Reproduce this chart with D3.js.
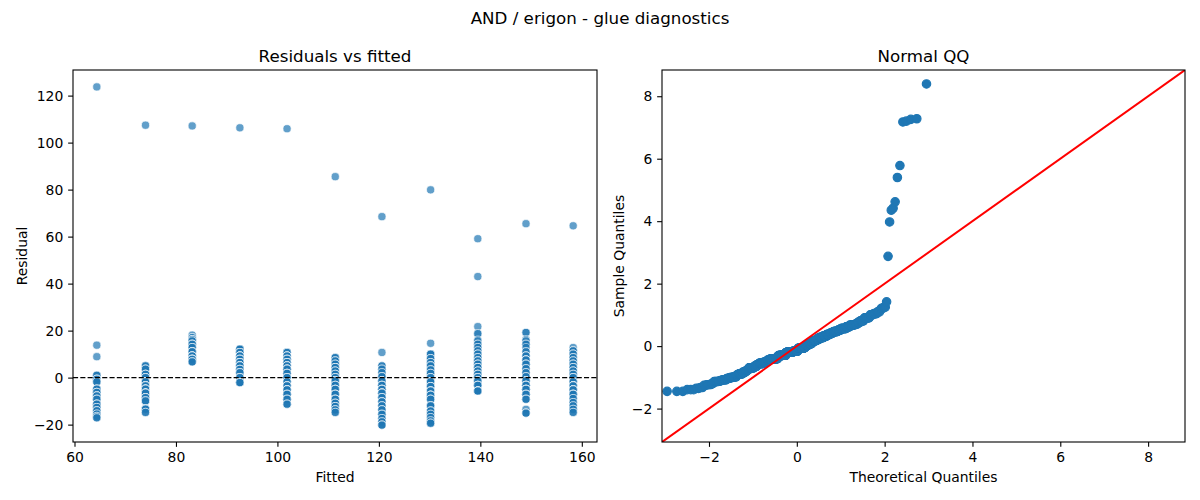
<!DOCTYPE html>
<html>
<head>
<meta charset="utf-8">
<script src="https://cdn.jsdelivr.net/npm/d3@7"></script>
<style>
  body { margin: 0; background: #fff; }
  text { font-family: "DejaVu Sans", sans-serif; fill: #000; }
</style>
</head>
<body>
<div id="chart"></div>
<script>
// fitted value of each group (x position of the columns)
var fitted = [64.4, 74.0, 83.2, 92.6, 101.9, 111.4, 120.6, 130.2, 139.5, 149.0, 158.3];

// residuals, top to bottom (repeats = stacked points)
var res64 = [123.7, 13.8, 8.9, 1.0, 1.0, 1.0, -0.7, -0.7, -0.7, -0.7, -1.8, -1.8, -1.8, -4.9, -4.9, -4.9, -4.9, -6.3, -6.3, -6.3, -6.3, -7.8, -7.8, -7.8, -7.8, -7.8, -9.2, -9.2, -9.2, -11.3, -11.3, -11.3, -11.3, -12.7, -12.7, -12.7, -14.1, -14.1, -14.1, -15.5, -15.5, -16.5, -16.5, -17.1, -17.1];
var res74 = [107.4, 5.0, 5.0, 5.0, 3.6, 3.6, 3.6, 1.4, 1.4, 1.4, 1.4, 0.0, 0.0, 0.0, 0.0, 0.0, -1.8, -1.8, -1.8, -1.8, -1.8, -1.8, -1.8, -1.8, -1.8, -1.8, -3.5, -3.5, -3.5, -3.5, -3.5, -3.5, -4.9, -4.9, -4.9, -4.9, -4.9, -4.9, -6.6, -6.6, -6.6, -6.6, -6.6, -6.6, -6.6, -8.5, -8.5, -8.5, -8.5, -8.5, -9.9, -9.9, -9.9, -13.4, -13.4, -13.4, -13.4, -14.8, -14.8];
var res83 = [107.1, 18.1, 17.0, 17.0, 17.0, 16.2, 16.2, 16.2, 15.6, 15.6, 14.2, 14.2, 14.2, 14.2, 12.8, 12.8, 12.8, 11.0, 11.0, 11.0, 11.0, 11.0, 9.2, 9.2, 9.2, 9.2, 9.2, 7.8, 7.8, 7.8, 7.8, 7.8, 7.8, 6.7, 6.7, 6.7];
var res93 = [106.3, 12.1, 12.1, 12.1, 12.1, 12.1, 10.7, 10.7, 10.7, 10.7, 10.7, 9.2, 9.2, 9.2, 9.2, 9.2, 7.8, 7.8, 7.8, 7.8, 6.4, 6.4, 6.4, 6.4, 6.4, 6.4, 5.0, 5.0, 5.0, 5.0, 5.0, 5.0, 3.5, 3.5, 3.5, 3.5, 2.1, 2.1, 2.1, 2.1, 2.1, 0.0, 0.0, 0.0, 0.0, 0.0, -2.1, -2.1, -2.1, -2.1, -2.1, -2.1, -2.1, -2.1];
var res102 = [105.9, 10.7, 10.7, 10.7, 9.2, 9.2, 9.2, 9.2, 7.8, 7.8, 7.8, 7.8, 6.4, 6.4, 6.4, 6.4, 6.4, 5.0, 5.0, 5.0, 5.0, 5.0, 3.6, 3.6, 3.6, 3.6, 3.6, 1.8, 1.8, 1.8, 1.8, 1.8, 0.0, 0.0, 0.0, 0.0, 0.0, -1.8, -1.8, -1.8, -1.8, -1.8, -1.8, -3.5, -3.5, -3.5, -3.5, -3.5, -5.2, -5.2, -5.2, -5.2, -5.2, -5.2, -7.1, -7.1, -7.1, -7.1, -9.2, -9.2, -9.2, -11.3, -11.3, -11.3];
var res111 = [85.5, 8.5, 8.5, 8.5, 7.1, 7.1, 7.1, 5.7, 5.7, 5.7, 4.3, 4.3, 4.3, 4.3, 4.3, 2.8, 2.8, 2.8, 1.4, 1.4, 1.4, 0.0, 0.0, 0.0, 0.0, -1.4, -1.4, -1.4, -1.4, -1.4, -1.4, -1.4, -1.4, -3.3, -3.3, -3.3, -3.3, -5.0, -5.0, -5.0, -5.0, -5.0, -7.1, -7.1, -7.1, -7.1, -7.1, -9.2, -9.2, -9.2, -9.2, -10.9, -10.9, -10.9, -12.3, -12.3, -12.3, -13.7, -13.7, -13.7, -14.8, -14.8];
var res121 = [68.5, 10.7, 5.0, 5.0, 3.6, 3.6, 2.1, 2.1, 0.4, 0.4, 0.4, 0.4, -1.4, -1.4, -1.4, -1.4, -1.4, -1.4, -1.4, -3.3, -3.3, -3.3, -3.3, -3.3, -5.0, -5.0, -5.0, -5.0, -5.0, -5.0, -6.6, -6.6, -6.6, -6.6, -6.6, -6.6, -8.5, -8.5, -8.5, -8.5, -10.3, -10.3, -10.3, -10.3, -12.0, -12.0, -12.0, -13.7, -13.7, -13.7, -15.6, -15.6, -15.6, -17.4, -17.4, -18.8, -18.8, -20.2, -20.2, -20.2];
var res130 = [79.9, 14.6, 10.0, 10.0, 10.0, 10.0, 8.1, 8.1, 8.1, 6.4, 6.4, 6.4, 5.0, 5.0, 5.0, 5.0, 3.3, 3.3, 3.3, 1.8, 1.8, 1.8, 0.0, 0.0, 0.0, 0.0, -1.8, -1.8, -1.8, -1.8, -1.8, -1.8, -1.8, -3.8, -3.8, -3.8, -3.8, -3.8, -5.7, -5.7, -5.7, -5.7, -5.7, -7.5, -7.5, -7.5, -7.5, -7.5, -9.2, -9.2, -9.2, -12.0, -12.0, -12.0, -12.0, -14.2, -14.2, -14.2, -15.6, -15.6, -17.0, -17.0, -18.4, -18.4, -19.4, -19.4, -19.4];
var res140 = [59.1, 43.0, 21.7, 18.7, 18.7, 16.0, 15.6, 14.2, 14.2, 12.8, 12.8, 11.4, 11.4, 10.0, 10.0, 10.0, 8.5, 8.5, 8.5, 7.1, 7.1, 7.1, 7.1, 5.7, 5.7, 5.7, 5.7, 4.3, 4.3, 4.3, 4.3, 2.8, 2.8, 2.8, 1.4, 1.4, 1.4, 1.4, 0.0, 0.0, 0.0, 0.0, 0.0, -1.4, -1.4, -1.4, -1.4, -1.4, -1.4, -3.3, -3.3, -3.3, -3.3, -3.3, -5.7, -5.7, -5.7, -5.7, -5.7, -5.7];
var res149 = [65.5, 19.2, 19.2, 16.2, 15.6, 14.2, 14.2, 12.8, 11.0, 11.0, 9.2, 9.2, 9.2, 7.5, 7.5, 7.5, 7.5, 5.7, 5.7, 5.7, 5.7, 3.8, 3.8, 3.8, 2.1, 2.1, 2.1, 0.4, 0.4, 0.4, -1.4, -1.4, -1.4, -1.4, -1.4, -1.4, -3.3, -3.3, -3.3, -3.3, -3.3, -3.3, -3.3, -5.0, -5.0, -5.0, -5.0, -5.0, -5.0, -5.0, -7.1, -7.1, -7.1, -7.1, -9.2, -9.2, -9.2, -13.5, -15.1, -15.1, -15.1];
var res158 = [64.6, 12.8, 11.4, 11.4, 11.4, 10.0, 10.0, 10.0, 8.5, 8.5, 8.5, 7.1, 7.1, 7.1, 5.7, 5.7, 5.7, 5.7, 4.3, 4.3, 4.3, 2.8, 2.8, 2.8, 1.4, 1.4, 1.4, 0.0, 0.0, 0.0, 0.0, 0.0, -1.8, -1.8, -1.8, -1.8, -1.8, -1.8, -1.8, -3.5, -3.5, -3.5, -3.5, -3.5, -3.5, -3.5, -5.2, -5.2, -5.2, -5.2, -5.2, -5.2, -7.1, -7.1, -7.1, -7.1, -7.1, -8.9, -8.9, -10.6, -10.6, -12.0, -12.0, -13.5, -13.5, -14.8, -14.8];

var residuals = [res64, res74, res83, res93, res102, res111, res121, res130, res140, res149, res158];

// tick labels
var residTicks = [-20, 0, 20, 40, 60, 80, 100, 120];
var fittedTicks = [60, 80, 100, 120, 140, 160];
var qqTicks = [-2, 0, 2, 4, 6, 8];
var qqLimits = [-3.07, 8.84];

var title = "AND / erigon - glue diagnostics";

function init() {

    var W = 1200, H = 500;
    var blue = "#1f77b4";

    var svg = d3.select("#chart")
                .append("svg")
                .attr("width", W)
                .attr("height", H);

    // flat list of points for the left panel
    var points = [];
    fitted.forEach(function(f, i) {
        residuals[i].forEach(function(r) {
            points.push({fit: f, res: r});
        });
    });

    // matplotlib-like 5% margins
    function padded(ext) {
        var m = (ext[1] - ext[0]) * 0.05;
        return [ext[0] - m, ext[1] + m];
    }

    var left = {x0: 73, x1: 597, y0: 70, y1: 442};
    var right = {x0: 662, x1: 1185, y0: 70, y1: 442};

    var tickLen = 4.86, tickPad = 4.86;

    function styleAxis(g) {
        g.select(".domain").remove();
        g.selectAll(".tick line").attr("stroke", "#000").attr("stroke-width", 1.1);
        g.selectAll(".tick text")
         .attr("fill", "#000")
         .style("font-size", "13.9px")
         .style("font-family", "DejaVu Sans, sans-serif");
    }

    // ---- Residuals vs fitted ----
    var xScale = d3.scaleLinear()
                   .domain(padded(d3.extent(fitted)))
                   .range([left.x0, left.x1]);
    var yScale = d3.scaleLinear()
                   .domain(padded(d3.extent(points, function(d) { return d.res; })))
                   .range([left.y1, left.y0]);

    var gl = svg.append("g");

    gl.append("g")
      .attr("transform", "translate(0," + left.y1 + ")")
      .call(d3.axisBottom(xScale).tickValues(fittedTicks).tickFormat(d3.format("d"))
              .tickSize(tickLen).tickPadding(tickPad))
      .call(styleAxis);

    gl.append("g")
      .attr("transform", "translate(" + left.x0 + ",0)")
      .call(d3.axisLeft(yScale).tickValues(residTicks).tickFormat(d3.format("d"))
              .tickSize(tickLen).tickPadding(tickPad))
      .call(styleAxis);

    gl.selectAll("circle.pt")
      .data(points)
      .enter()
      .append("circle")
      .attr("class", "pt")
      .attr("cx", function(d) { return xScale(d.fit); })
      .attr("cy", function(d) { return yScale(d.res); })
      .attr("r", 4.1)
      .attr("fill", blue)
      .attr("stroke", "#fff")
      .attr("stroke-width", 0.7)
      .attr("opacity", 0.7);

    // zero line
    gl.append("line")
      .attr("x1", left.x0).attr("x2", left.x1)
      .attr("y1", yScale(0)).attr("y2", yScale(0))
      .attr("stroke", "#000")
      .attr("stroke-width", 1.4)
      .attr("stroke-dasharray", "5.1,2.2");

    gl.append("rect")
      .attr("x", left.x0).attr("y", left.y0)
      .attr("width", left.x1 - left.x0).attr("height", left.y1 - left.y0)
      .attr("fill", "none").attr("stroke", "#000").attr("stroke-width", 1.1);

    gl.append("text")
      .attr("x", (left.x0 + left.x1) / 2).attr("y", 62)
      .attr("text-anchor", "middle")
      .style("font-size", "16.7px")
      .text("Residuals vs fitted");

    gl.append("text")
      .attr("x", (left.x0 + left.x1) / 2).attr("y", 482)
      .attr("text-anchor", "middle")
      .style("font-size", "13.9px")
      .text("Fitted");

    gl.append("text")
      .attr("transform", "translate(27," + (left.y0 + left.y1) / 2 + ") rotate(-90)")
      .attr("text-anchor", "middle")
      .style("font-size", "13.9px")
      .text("Residual");

    // ---- Normal QQ ----
    var all = points.map(function(d) { return d.res; }).sort(d3.ascending);
    var n = all.length;
    var mu = d3.mean(all);
    var sd = Math.sqrt(d3.mean(all, function(v) { return (v - mu) * (v - mu); }));
    var qq = all.map(function(v, i) {
        return {t: normInv((i + 1) / (n + 1)), s: (v - mu) / sd};
    });

    var qx = d3.scaleLinear().domain(qqLimits).range([right.x0, right.x1]);
    var qy = d3.scaleLinear().domain(qqLimits).range([right.y1, right.y0]);

    var gr = svg.append("g");

    svg.append("clipPath").attr("id", "qqclip")
       .append("rect")
       .attr("x", right.x0).attr("y", right.y0)
       .attr("width", right.x1 - right.x0).attr("height", right.y1 - right.y0);

    gr.append("g")
      .attr("transform", "translate(0," + right.y1 + ")")
      .call(d3.axisBottom(qx).tickValues(qqTicks).tickFormat(d3.format("d"))
              .tickSize(tickLen).tickPadding(tickPad))
      .call(styleAxis);

    gr.append("g")
      .attr("transform", "translate(" + right.x0 + ",0)")
      .call(d3.axisLeft(qy).tickValues(qqTicks).tickFormat(d3.format("d"))
              .tickSize(tickLen).tickPadding(tickPad))
      .call(styleAxis);

    gr.append("g")
      .attr("clip-path", "url(#qqclip)")
      .selectAll("circle")
      .data(qq)
      .enter()
      .append("circle")
      .attr("cx", function(d) { return qx(d.t); })
      .attr("cy", function(d) { return qy(d.s); })
      .attr("r", 4.2)
      .attr("fill", blue)
      .attr("stroke", blue)
      .attr("stroke-width", 1.2);

    // 45 degree reference line
    gr.append("line")
      .attr("clip-path", "url(#qqclip)")
      .attr("x1", qx(qqLimits[0])).attr("y1", qy(qqLimits[0]))
      .attr("x2", qx(qqLimits[1])).attr("y2", qy(qqLimits[1]))
      .attr("stroke", "red")
      .attr("stroke-width", 2);

    gr.append("rect")
      .attr("x", right.x0).attr("y", right.y0)
      .attr("width", right.x1 - right.x0).attr("height", right.y1 - right.y0)
      .attr("fill", "none").attr("stroke", "#000").attr("stroke-width", 1.1);

    gr.append("text")
      .attr("x", (right.x0 + right.x1) / 2).attr("y", 62)
      .attr("text-anchor", "middle")
      .style("font-size", "16.7px")
      .text("Normal QQ");

    gr.append("text")
      .attr("x", (right.x0 + right.x1) / 2).attr("y", 482)
      .attr("text-anchor", "middle")
      .style("font-size", "13.9px")
      .text("Theoretical Quantiles");

    gr.append("text")
      .attr("transform", "translate(624," + (right.y0 + right.y1) / 2 + ") rotate(-90)")
      .attr("text-anchor", "middle")
      .style("font-size", "13.9px")
      .text("Sample Quantiles");

    svg.append("text")
       .attr("x", W / 2).attr("y", 24)
       .attr("text-anchor", "middle")
       .style("font-size", "16.7px")
       .text(title);
}

// inverse standard normal CDF (Acklam's rational approximation)
function normInv(p) {
    var a = [-3.969683028665376e+01, 2.209460984245205e+02, -2.759285104469687e+02,
             1.383577518672690e+02, -3.066479806614716e+01, 2.506628277459239e+00];
    var b = [-5.447609879822406e+01, 1.615858368580409e+02, -1.556989798598866e+02,
             6.680131188771972e+01, -1.328068155922803e+01];
    var c = [-7.784894002430293e-03, -3.223964580411365e-01, -2.400758277161838e+00,
             -2.549732539343734e+00, 4.374664141464968e+00, 2.938163982698783e+00];
    var d = [7.784695709041462e-03, 3.224671290700398e-01, 2.445134137142996e+00,
             3.754408661907416e+00];
    var plow = 0.02425, q, r;
    if (p < plow) {
        q = Math.sqrt(-2 * Math.log(p));
        return (((((c[0]*q + c[1])*q + c[2])*q + c[3])*q + c[4])*q + c[5]) /
               ((((d[0]*q + d[1])*q + d[2])*q + d[3])*q + 1);
    }
    if (p > 1 - plow) {
        q = Math.sqrt(-2 * Math.log(1 - p));
        return -(((((c[0]*q + c[1])*q + c[2])*q + c[3])*q + c[4])*q + c[5]) /
                ((((d[0]*q + d[1])*q + d[2])*q + d[3])*q + 1);
    }
    q = p - 0.5;
    r = q * q;
    return (((((a[0]*r + a[1])*r + a[2])*r + a[3])*r + a[4])*r + a[5])*q /
           (((((b[0]*r + b[1])*r + b[2])*r + b[3])*r + b[4])*r + 1);
}

window.onload = init;
</script>
</body>
</html>
